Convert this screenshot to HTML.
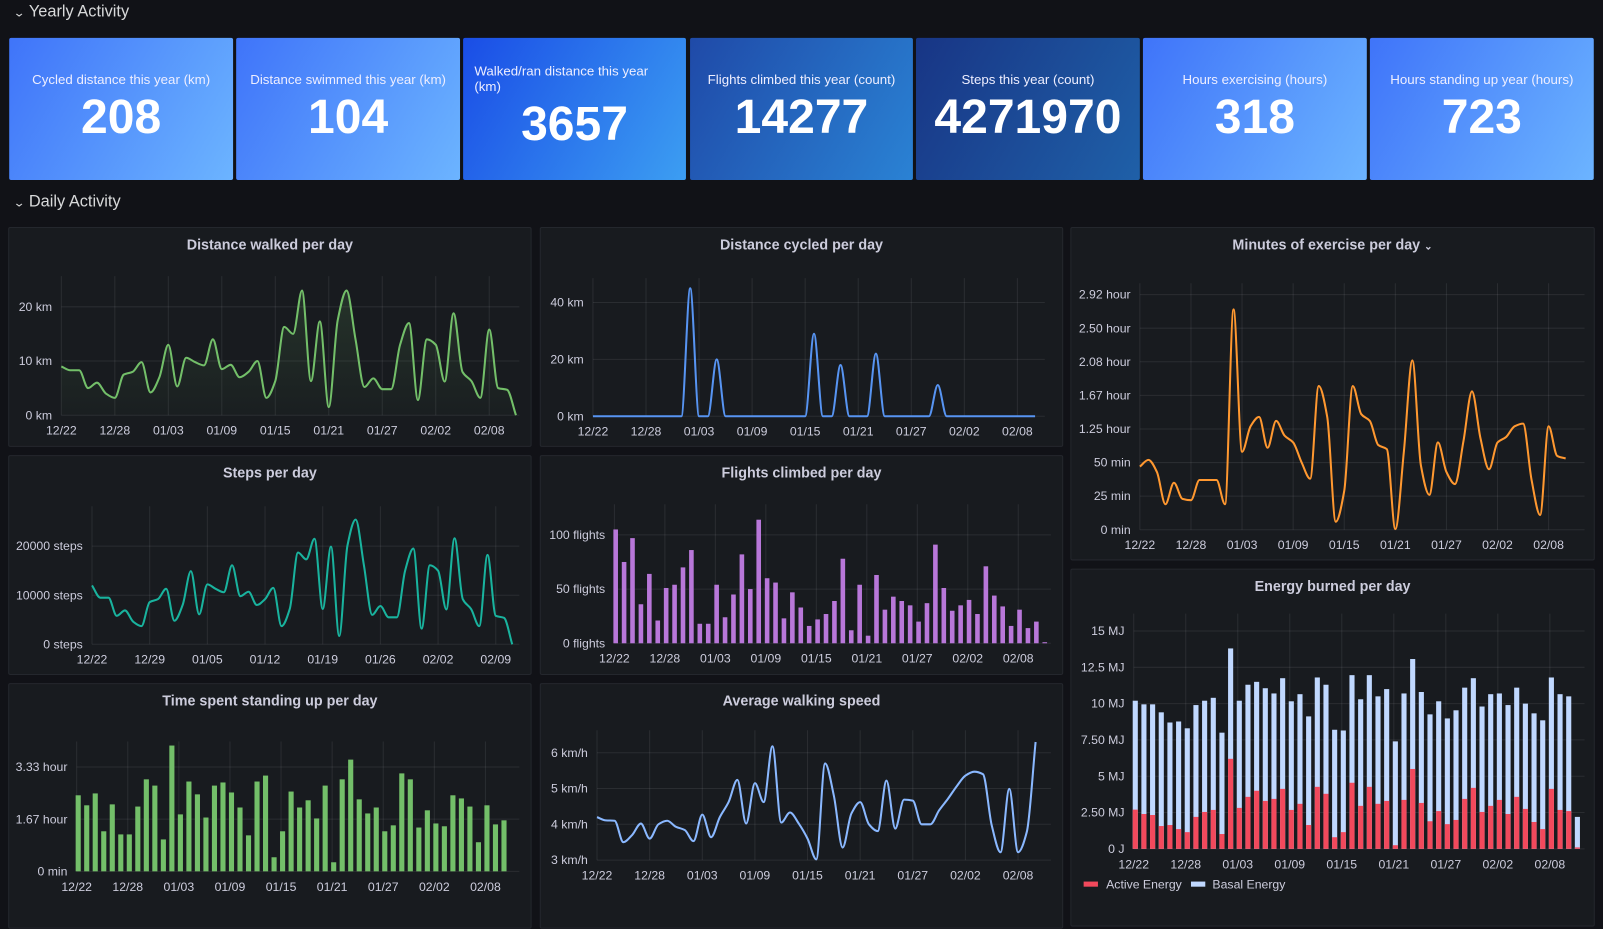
<!DOCTYPE html>
<html><head><meta charset="utf-8">
<style>
*{box-sizing:border-box;margin:0;padding:0}
body{width:1603px;height:900px;overflow:hidden;background:#111217;font-family:"Liberation Sans",sans-serif;color:#ccccdc;position:relative}
#wrap{position:absolute;left:0;top:0;width:1568px;height:880px;transform:scale(1.0223,1.0227);transform-origin:0 0}
.row{position:absolute;left:14px;font-size:16px;color:#d8d9da;font-weight:500}
.row span{font-size:11px;margin-right:5px;display:inline-block;transform:scaleX(1.3)}
.stat{position:absolute;top:37px;height:139px;width:219px;border-radius:2px;color:#fff;text-align:center}
.stat .t{position:absolute;left:8px;right:8px;top:33px;font-size:13px;color:#eef}
.stat .v{position:absolute;left:0;right:0;top:49px;font-size:47px;font-weight:bold;line-height:56px}
.panel{position:absolute;background:#181b1f;border:1px solid #24272d;border-radius:2px}
.panel .pt{position:absolute;left:0;right:0;top:8px;text-align:center;font-size:14px;font-weight:bold;color:#ccccdc}
#chart{position:absolute;left:0;top:0}
</style></head><body>
<div id="wrap">
<div class="row" style="top:3px"><span>⌄</span>Yearly Activity</div>
<div class="stat" style="left:9px;background:linear-gradient(120deg,#3f74f9,#6cb4ff)"><div class="t">Cycled distance this year (km)</div><div class="v">208</div></div>
<div class="stat" style="left:231px;background:linear-gradient(120deg,#3f74f9,#6cb4ff)"><div class="t">Distance swimmed this year (km)</div><div class="v">104</div></div>
<div class="stat" style="left:453px;width:218px;background:linear-gradient(120deg,#1a4de6,#3c9ef2);text-align:left"><div class="t" style="top:25px;left:11px">Walked/ran distance this year (km)</div><div class="v" style="top:56px;text-align:center">3657</div></div>
<div class="stat" style="left:675px;width:218px;background:linear-gradient(120deg,#1f4aa8,#2a82d4)"><div class="t">Flights climbed this year (count)</div><div class="v">14277</div></div>
<div class="stat" style="left:896px;background:linear-gradient(120deg,#183585,#1f60a8)"><div class="t">Steps this year (count)</div><div class="v">4271970</div></div>
<div class="stat" style="left:1118px;background:linear-gradient(120deg,#3f74f9,#6cb4ff)"><div class="t">Hours exercising (hours)</div><div class="v">318</div></div>
<div class="stat" style="left:1340px;background:linear-gradient(120deg,#3f74f9,#6cb4ff)"><div class="t">Hours standing up year (hours)</div><div class="v">723</div></div>
<div class="row" style="top:189px"><span>⌄</span>Daily Activity</div>

<div class="panel" style="left:8px;top:222px;width:512px;height:215px"><div class="pt">Distance walked per day</div></div>
<div class="panel" style="left:528px;top:222px;width:512px;height:215px"><div class="pt">Distance cycled per day</div></div>
<div class="panel" style="left:1047px;top:222px;width:513px;height:326px"><div class="pt">Minutes of exercise per day <span style="font-size:10px">⌄</span></div></div>
<div class="panel" style="left:8px;top:445px;width:512px;height:215px"><div class="pt">Steps per day</div></div>
<div class="panel" style="left:528px;top:445px;width:512px;height:215px"><div class="pt">Flights climbed per day</div></div>
<div class="panel" style="left:8px;top:668px;width:512px;height:240px"><div class="pt">Time spent standing up per day</div></div>
<div class="panel" style="left:528px;top:668px;width:512px;height:240px"><div class="pt">Average walking speed</div></div>
<div class="panel" style="left:1047px;top:556px;width:513px;height:350px"><div class="pt">Energy burned per day</div></div>

<svg id="chart" width="1568" height="880" xmlns="http://www.w3.org/2000/svg">
<defs><linearGradient id="gw" x1="0" y1="0" x2="0" y2="1"><stop offset="0" stop-color="#73bf69" stop-opacity="0.15"/><stop offset="1" stop-color="#73bf69" stop-opacity="0.02"/></linearGradient></defs>
<rect x="1060" y="862" width="14" height="5" fill="#f2495c"/>
<text x="1082" y="869" font-size="12" fill="#ccccdc">Active Energy</text>
<rect x="1165" y="862" width="14" height="5" fill="#c0d8ff"/>
<text x="1186" y="869" font-size="12" fill="#ccccdc">Basal Energy</text>
</svg>
</div>
<script>
const walkKm=[9,8.3,8.3,5,6,4,3.2,7.5,8,9.8,4.2,7,13,5.3,10.6,9.8,9.2,14,8.5,9.3,7,8,10,3.2,6.3,16.3,15,23,6.3,17.3,1.5,17.5,23,14,5.2,6.8,4.8,4.8,13,17,2.8,14,13,6.2,18.8,8,6.3,3.2,15.8,5,4.7,0];
const cycleKm=[0,0,0,0,0,0,0,0,0,0,0,45,0,0,20,0,0,0,0,0,0,0,0,0,0,29,0,0,18,0,0,0,22,0,0,0,0,0,0,11,0,0,0,0,0,0,0,0,0,0,0];
const exerciseMin=[47,52,43,19,35,23,22,37,37,37,19,164,58,77,84,61,81,70,65,50,38,107,84,6,29,107,86,81,63,60,0.5,58,126,48,26,65,43,34,66,103,68,45,65,69,77,79,37,11,77,55,53];
const stepsCount=[12000,9500,9500,5800,6900,4600,3700,8600,9200,11300,4800,8000,14900,6100,12200,11300,10600,16100,9800,10700,8000,9200,11500,3700,7200,18700,17300,21500,7200,19900,1700,20100,25400,16100,6000,7800,5500,5500,15000,19500,3200,16100,15000,7100,21600,9200,7200,3700,18200,5800,5400,0];
const flightsCount=[105,75,97,36,64,21,51,54,70,86,18,18,54,24,45,82,50,114,60,56,23,47,33,16,22,27,39,78,12,54,7,63,31,43,39,35,20,37,91,51,30,35,40,27,71,44,34,16,31,14,20,1];
const standingHours=[2.43,2.11,2.49,1.28,2.14,1.18,1.18,2.07,2.94,2.74,1.02,4.02,1.82,2.87,2.46,1.72,2.74,2.84,2.52,2.04,1.15,2.87,3.06,0.45,1.28,2.55,2.04,2.27,1.69,2.74,0.29,2.94,3.57,2.3,1.85,2.04,1.28,1.47,3.13,2.94,1.4,1.95,1.53,1.44,2.43,2.33,2.07,0.93,2.11,1.5,1.63];
const speedKmh=[4.2,4.11,4.1,3.5,3.7,4.02,3.6,4.0,4.1,3.93,3.84,3.53,4.27,3.64,4.2,4.62,5.24,4.02,5.15,4.62,6.18,4.05,4.33,4.02,3.6,3.02,5.7,4.8,3.35,4.3,4.62,4.0,3.81,5.22,3.88,4.69,4.66,4.0,4.0,4.39,4.71,5.06,5.36,5.47,5.4,3.97,3.22,4.99,3.22,3.79,6.3];
const energyTotal=[10.2,9.95,9.95,9.4,8.7,8.77,8.3,9.9,10.2,10.4,8.0,13.8,10.2,11.3,11.5,11.06,10.7,11.75,10.16,10.65,9.12,11.8,11.3,8.2,8.15,11.96,10.3,11.96,10.5,11.0,7.4,10.7,13.07,10.8,9.26,10.16,8.98,9.54,11.1,11.75,9.8,10.65,10.7,9.9,11.1,10.0,9.33,8.85,11.8,10.65,10.5,2.2];
const energyActive=[2.7,2.4,2.33,1.57,1.64,1.36,1.15,2.2,2.54,2.68,1.02,6.2,2.82,3.58,4.0,3.3,3.44,4.13,2.68,3.1,1.64,4.27,3.79,0.8,1.15,4.55,2.96,4.27,3.1,3.3,0.25,3.37,5.5,3.16,1.9,2.6,1.7,1.99,3.44,4.2,2.54,2.96,3.37,2.4,3.58,2.75,1.85,1.36,4.13,2.68,2.6,0.1];
const dateTicks6=["12/22","12/28","01/03","01/09","01/15","01/21","01/27","02/02","02/08"];
const dateTicks7=["12/22","12/29","01/05","01/12","01/19","01/26","02/02","02/09"];
const walkTickVals=[0,10,20], walkTickLbl=["0 km","10 km","20 km"];
const cycleTickVals=[0,20,40], cycleTickLbl=["0 km","20 km","40 km"];
const exTickVals=[0,25,50,75,100,125,150,175], exTickLbl=["0 min","25 min","50 min","1.25 hour","1.67 hour","2.08 hour","2.50 hour","2.92 hour"];
const stepTickVals=[0,10000,20000], stepTickLbl=["0 steps","10000 steps","20000 steps"];
const flTickVals=[0,50,100], flTickLbl=["0 flights","50 flights","100 flights"];
const stTickVals=[0,1.667,3.333], stTickLbl=["0 min","1.67 hour","3.33 hour"];
const spTickVals=[3,4,5,6], spTickLbl=["3 km/h","4 km/h","5 km/h","6 km/h"];
const enTickVals=[0,2.5,5,7.5,10,12.5,15], enTickLbl=["0 J","2.50 MJ","5 MJ","7.50 MJ","10 MJ","12.5 MJ","15 MJ"];

const svg=document.getElementById('chart');
const NS='http://www.w3.org/2000/svg';
function el(tag,a){const e=document.createElementNS(NS,tag);for(const k in a)e.setAttribute(k,a[k]);svg.appendChild(e);return e;}

function axes(c,name){
  const xs=i=>c.x0+i*c.dx, ys=v=>c.base-(v-c.ymin)*c.k;
  c.ticks.forEach((v,i)=>{
    const g=el('line',{x1:c.x0,x2:c.right,y1:ys(v),y2:ys(v),stroke:'rgba(204,204,220,0.1)'});
    
    
    const t=el('text',{x:c.x0-9,y:ys(v)+4,'text-anchor':'end','font-size':12,fill:'#ccccdc'});
    t.textContent=c.labels[i];
    
    
  });
  c.xl.forEach((l,i)=>{
    const x=xs(i*c.step);
    const g=el('line',{x1:x,x2:x,y1:c.top,y2:c.base,stroke:'rgba(204,204,220,0.1)'});
    
    
    const t=el('text',{x:x,y:c.base+19,'text-anchor':'middle','font-size':12,fill:'#ccccdc'});
    t.textContent=l;
    
    
  });
  return [xs,ys];
}
function smooth(pts){
  const n=pts.length, d=[], m=[];
  for(let i=0;i<n-1;i++) d.push((pts[i+1][1]-pts[i][1])/(pts[i+1][0]-pts[i][0]));
  m[0]=d[0]; m[n-1]=d[n-2];
  for(let i=1;i<n-1;i++){
    if(d[i-1]*d[i]<=0) m[i]=0;
    else m[i]=2/(1/d[i-1]+1/d[i]);
  }
  let s='M'+pts[0][0]+','+pts[0][1];
  for(let i=0;i<n-1;i++){
    const h=(pts[i+1][0]-pts[i][0])/3;
    s+=' C'+(pts[i][0]+h)+','+(pts[i][1]+m[i]*h)+' '+(pts[i+1][0]-h)+','+(pts[i+1][1]-m[i+1]*h)+' '+pts[i+1][0]+','+pts[i+1][1];
  }
  return s;
}
function lineChart(c,data,color,name,fill){
  const [xs,ys]=axes(c,name);
  const pts=data.map((v,i)=>[xs(i),ys(v)]);
  const d=smooth(pts);
  if(fill){
    const f=el('path',{d:d+' L'+pts[pts.length-1][0]+','+c.base+' L'+pts[0][0]+','+c.base+' Z',fill:fill});
    
    
  }
  const p=el('path',{d:d,fill:'none',stroke:color,'stroke-width':2});
  
  
}
function barChart(c,data,color,name,w){
  const [xs,ys]=axes(c,name);
  data.forEach((v,i)=>{
    const b=el('rect',{x:xs(i)-1,y:ys(v),width:w,height:c.base-ys(v),fill:color});
    
    
  });
}

lineChart({x0:60,dx:8.72,base:406,k:5.3,ymin:0,top:270,right:508,ticks:walkTickVals,labels:walkTickLbl,xl:dateTicks6,step:6},walkKm,'#73bf69','walk','url(#gw)');
lineChart({x0:580,dx:8.65,base:407,k:2.78,ymin:0,top:272,right:1022,ticks:cycleTickVals,labels:cycleTickLbl,xl:dateTicks6,step:6},cycleKm,'#5794f2','cycle');
lineChart({x0:1115,dx:8.33,base:518,k:1.314,ymin:0,top:277,right:1550,ticks:exTickVals,labels:exTickLbl,xl:dateTicks6,step:6},exerciseMin,'#ff9830','exercise');
lineChart({x0:90,dx:8.06,base:630,k:0.0048,ymin:0,top:495,right:508,ticks:stepTickVals,labels:stepTickLbl,xl:dateTicks7,step:7},stepsCount,'#19b39e','steps');
barChart({x0:601,dx:8.23,base:629,k:1.06,ymin:0,top:493,right:1028,ticks:flTickVals,labels:flTickLbl,xl:dateTicks6,step:6},flightsCount,'#b877d9','flights',4.5);
barChart({x0:75,dx:8.33,base:852,k:30.6,ymin:0,top:725,right:508,ticks:stTickVals,labels:stTickLbl,xl:dateTicks6,step:6},standingHours,'#73bf69','standing',5);
lineChart({x0:584,dx:8.58,base:841,k:35,ymin:3,top:714,right:1028,ticks:spTickVals,labels:spTickLbl,xl:dateTicks6,step:6},speedKmh,'#8ab8ff','speed');
(function(){
  const c={x0:1109,dx:8.48,base:830,k:14.2,ymin:0,top:600,right:1550,ticks:enTickVals,labels:enTickLbl,xl:dateTicks6,step:6};
  const [xs,ys]=axes(c,'energy');
  energyTotal.forEach((v,i)=>{
    const b=el('rect',{x:xs(i)-1,y:ys(v),width:5,height:c.base-ys(v),fill:'#c0d8ff'});
    
    
  });
  energyActive.forEach((v,i)=>{
    const b=el('rect',{x:xs(i)-1,y:ys(v),width:5,height:c.base-ys(v),fill:'#f2495c'});
    
    
  });
})();
</script>
</body></html>
